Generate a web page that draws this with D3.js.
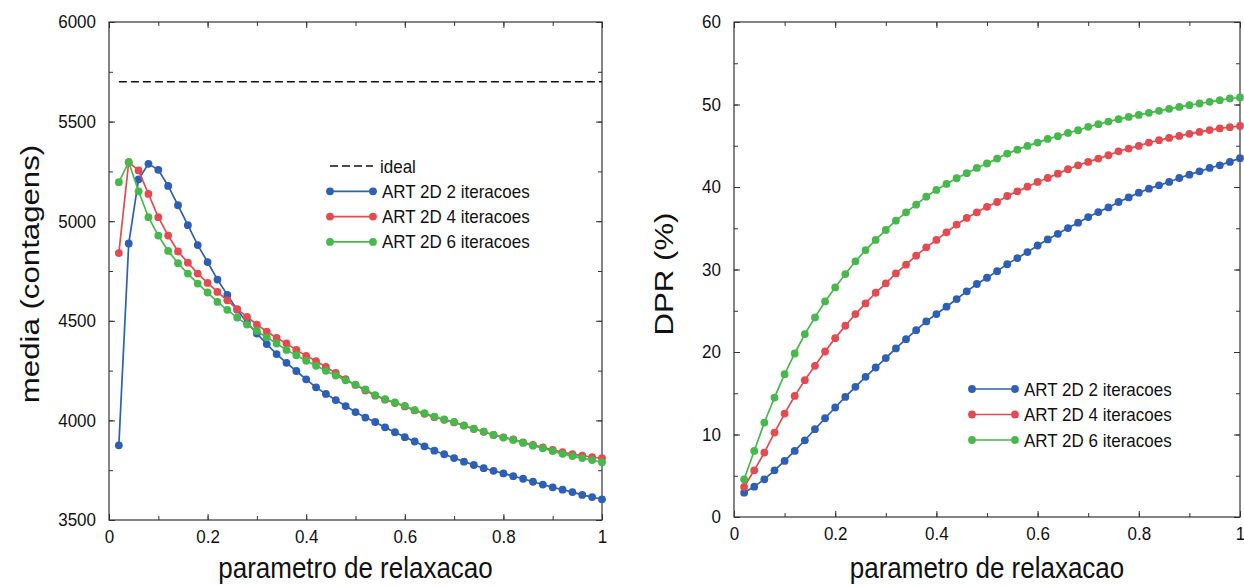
<!DOCTYPE html>
<html><head><meta charset="utf-8">
<script src="https://cdn.jsdelivr.net/npm/d3@7"></script>
<style>
html,body{margin:0;padding:0;background:#fff;}
svg{display:block;}
text{font-family:"Liberation Sans",Arial,Helvetica,sans-serif;fill:#111;}
</style></head>
<body>
<svg id="chart" width="1244" height="586"></svg>
<script>
// x categories: relaxation parameter
const relaxParam = [0.02,0.04,0.06,0.08,0.10,0.12,0.14,0.16,0.18,0.20,0.22,0.24,0.26,0.28,0.30,0.32,0.34,0.36,0.38,0.40,0.42,0.44,0.46,0.48,0.50,0.52,0.54,0.56,0.58,0.60,0.62,0.64,0.66,0.68,0.70,0.72,0.74,0.76,0.78,0.80,0.82,0.84,0.86,0.88,0.90,0.92,0.94,0.96,0.98,1.00];

// left panel: media (contagens)
const idealValue = 5700;
const media2it = [3875,4888,5210,5288,5258,5177,5080,4980,4880,4795,4707,4630,4556,4490,4436,4383,4333,4289,4248,4206,4166,4133,4102,4072,4042,4014,3992,3965,3941,3916,3894,3870,3848,3830,3811,3793,3776,3760,3747,3734,3720,3707,3692,3678,3664,3652,3640,3626,3615,3604];
const media4it = [4840,5296,5255,5137,5020,4928,4848,4792,4737,4690,4645,4603,4558,4520,4481,4446,4414,4386,4354,4324,4298,4268,4238,4207,4178,4150,4124,4104,4087,4070,4050,4033,4016,4003,3990,3974,3957,3943,3927,3915,3905,3890,3877,3865,3852,3840,3831,3823,3815,3810];
const media6it = [5196,5296,5150,5020,4928,4851,4789,4737,4687,4642,4595,4555,4516,4481,4449,4417,4386,4354,4327,4299,4274,4249,4225,4201,4180,4155,4127,4107,4090,4073,4052,4036,4019,4005,3992,3975,3958,3944,3927,3914,3902,3887,3873,3860,3846,3832,3821,3811,3801,3790];

// right panel: DPR (%)
const dpr2it = [2.95,3.68,4.57,5.66,6.80,8.01,9.30,10.64,11.97,13.27,14.56,15.78,16.99,18.12,19.26,20.43,21.56,22.65,23.71,24.60,25.49,26.42,27.35,28.24,29.0,29.8,30.65,31.38,32.11,32.91,33.64,34.33,35.02,35.67,36.36,36.96,37.53,38.18,38.74,39.31,39.80,40.20,40.61,41.09,41.50,41.90,42.31,42.63,43.04,43.5];
const dpr4it = [3.64,5.66,7.81,10.23,12.54,14.68,16.59,18.33,20.06,21.68,23.18,24.60,25.89,27.18,28.32,29.53,30.58,31.67,32.69,33.58,34.51,35.44,36.25,36.93,37.6,38.18,38.91,39.47,40.04,40.61,41.09,41.62,42.15,42.63,43.04,43.44,43.85,44.33,44.66,44.98,45.38,45.67,45.95,46.19,46.44,46.68,46.9,47.1,47.25,47.4];
const dpr6it = [4.57,8.01,11.45,14.48,17.31,19.82,22.17,24.19,26.13,27.83,29.45,30.99,32.36,33.58,34.79,35.92,36.93,37.86,38.83,39.64,40.37,41.06,41.67,42.31,42.85,43.44,44.05,44.53,44.98,45.38,45.83,46.15,46.56,46.88,47.29,47.61,47.93,48.22,48.50,48.74,48.99,49.23,49.47,49.71,49.92,50.12,50.32,50.52,50.73,50.85];

const seriesNames = ["ART 2D 2 iteracoes","ART 2D 4 iteracoes","ART 2D 6 iteracoes"];
const seriesColors = ["#2c5fb5","#e24b50","#46b84c"];
const xTicks = [0,0.2,0.4,0.6,0.8,1];
const xTickLabels = ["0","0.2","0.4","0.6","0.8","1"];
const leftYTicks = [3500,4000,4500,5000,5500,6000];
const rightYTicks = [0,10,20,30,40,50,60];
const xTitle = "parametro de relaxacao";

const svg = d3.select("#chart");

function panel(cfg){
  const x = d3.scaleLinear().domain([0,1]).range([cfg.x0,cfg.x1]);
  const y = d3.scaleLinear().domain(cfg.yDomain).range([cfg.y1,cfg.y0]);
  const g = svg.append("g");
  const W = cfg.x1-cfg.x0, H = cfg.y1-cfg.y0;
  const lineCol = "#333";

  const xMinor = d3.range(0,1.0001,0.1);
  const yMinor = d3.range(cfg.yDomain[0], cfg.yDomain[1]+1e-9, cfg.yMinorStep);
  const axes = [
    [d3.axisBottom(x).tickValues(xTicks).tickFormat((d,i)=>xTickLabels[i]).tickSize(-6).tickPadding(9), `translate(0,${cfg.y1})`],
    [d3.axisTop(x).tickValues(xTicks).tickFormat("").tickSize(-6), `translate(0,${cfg.y0})`],
    [d3.axisBottom(x).tickValues(xMinor).tickFormat("").tickSize(-4), `translate(0,${cfg.y1})`],
    [d3.axisTop(x).tickValues(xMinor).tickFormat("").tickSize(-4), `translate(0,${cfg.y0})`],
    [d3.axisLeft(y).tickValues(cfg.yTicks).tickFormat(d3.format("d")).tickSize(-6).tickPadding(13), `translate(${cfg.x0},0)`],
    [d3.axisRight(y).tickValues(cfg.yTicks).tickFormat("").tickSize(-6), `translate(${cfg.x1},0)`],
    [d3.axisLeft(y).tickValues(yMinor).tickFormat("").tickSize(-4), `translate(${cfg.x0},0)`],
    [d3.axisRight(y).tickValues(yMinor).tickFormat("").tickSize(-4), `translate(${cfg.x1},0)`]
  ];
  axes.forEach(([ax,tr])=>{
    const a = g.append("g").attr("transform",tr).call(ax);
    a.select(".domain").remove();
    a.selectAll(".tick line").attr("stroke",lineCol).attr("stroke-width",1);
    a.selectAll(".tick text").attr("font-size",17).attr("fill","#111")
      .attr("font-family",'"Liberation Sans",Arial,sans-serif')
      .attr("transform","scale(1,1.1)");
  });
  g.append("rect").attr("x",cfg.x0).attr("y",cfg.y0).attr("width",W).attr("height",H)
    .attr("fill","none").attr("stroke",lineCol).attr("stroke-width",1.2);

  if(cfg.ideal!==undefined){
    g.append("line").attr("x1",x(relaxParam[0])).attr("x2",x(1)).attr("y1",y(cfg.ideal)).attr("y2",y(cfg.ideal))
      .attr("stroke","#111").attr("stroke-width",1.7).attr("stroke-dasharray","8,4");
  }
  const line = d3.line().x(d=>x(d[0])).y(d=>y(d[1]));
  cfg.series.forEach((vals,i)=>{
    const pts = relaxParam.map((p,j)=>[p,vals[j]]);
    g.append("path").attr("d",line(pts)).attr("fill","none").attr("stroke",seriesColors[i]).attr("stroke-width",1.7);
    g.selectAll(null).data(pts).enter().append("circle")
      .attr("cx",d=>x(d[0])).attr("cy",d=>y(d[1])).attr("r",3.9).attr("fill",seriesColors[i]);
  });

  const lg = g.append("g");
  let row = 0;
  function legText(xx,yy,t){
    lg.append("g").attr("transform",`translate(${xx},${yy}) scale(1,1.1)`)
      .append("text").attr("dy","0.35em").attr("font-size",17).text(t);
  }
  if(cfg.ideal!==undefined){
    const yy = cfg.legY;
    lg.append("line").attr("x1",cfg.legX).attr("x2",cfg.legX+43).attr("y1",yy).attr("y2",yy)
      .attr("stroke","#111").attr("stroke-width",1.7).attr("stroke-dasharray","8,4");
    legText(cfg.legX+50,yy,"ideal");
    row = 1;
  }
  seriesNames.forEach((nm,i)=>{
    const yy = cfg.legY + (row+i)*cfg.legDy;
    lg.append("line").attr("x1",cfg.legX).attr("x2",cfg.legX+43).attr("y1",yy).attr("y2",yy)
      .attr("stroke",seriesColors[i]).attr("stroke-width",1.7);
    [cfg.legX,cfg.legX+43].forEach(cx=>lg.append("circle").attr("cx",cx).attr("cy",yy).attr("r",3.9).attr("fill",seriesColors[i]));
    legText(cfg.legX+52,yy,nm);
  });

  g.append("g").attr("transform",`translate(${(cfg.x0+cfg.x1)/2},578) scale(1,1.1)`)
    .append("text").attr("text-anchor","middle").attr("font-size",26).text(xTitle);
  g.append("text").attr("transform",`translate(${cfg.ytX},${cfg.ytY}) rotate(-90) scale(1.2,1)`)
    .attr("text-anchor","middle").attr("dy","0.35em").attr("font-size",26).text(cfg.yTitle);
}

panel({x0:109,x1:602,y0:22,y1:520,yDomain:[3500,6000],yTicks:leftYTicks,yMinorStep:250,
  ideal:idealValue,series:[media2it,media4it,media6it],legX:330,legY:166,legDy:25.3,
  yTitle:"media (contagens)",ytX:30,ytY:274});
panel({x0:734,x1:1240,y0:22,y1:517,yDomain:[0,60],yTicks:rightYTicks,yMinorStep:5,
  series:[dpr2it,dpr4it,dpr6it],legX:972,legY:389,legDy:25.5,
  yTitle:"DPR (%)",ytX:664,ytY:274});
</script>
</body></html>
